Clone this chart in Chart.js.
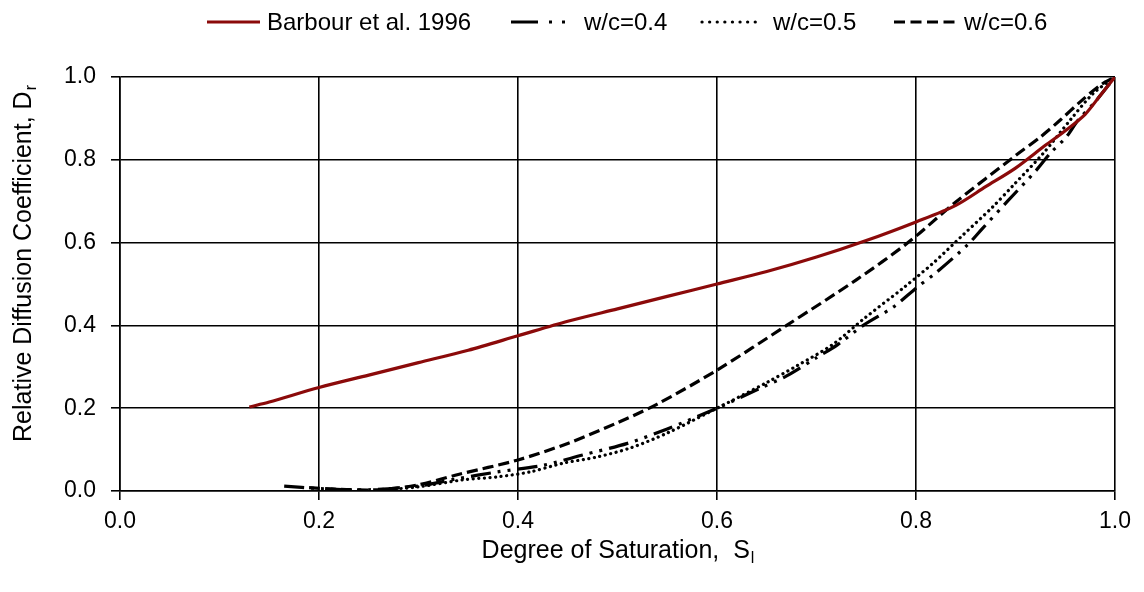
<!DOCTYPE html>
<html><head><meta charset="utf-8">
<script src="https://cdn.jsdelivr.net/npm/chart.js@4/dist/chart.umd.min.js"></script>
<style>html,body{margin:0;padding:0;background:#fff}</style>
</head><body>
<canvas id="c" width="1144" height="592"></canvas>
<script>
// ---- data ----
const tickLabels = ['0.0', '0.2', '0.4', '0.6', '0.8', '1.0'];
const seriesNames = ['Barbour et al. 1996', 'w/c=0.4', 'w/c=0.5', 'w/c=0.6'];
const xTitle = 'Degree of Saturation,  S';
const xTitleSub = 'l';
const yTitle = 'Relative Diffusion Coefficient, D';
const yTitleSub = 'r';

const barbourS = [0.13, 0.15, 0.2, 0.25, 0.3, 0.35, 0.4, 0.45, 0.5, 0.55, 0.6, 0.65, 0.7, 0.75, 0.8, 0.84, 0.87, 0.9, 0.93, 0.95, 0.97, 0.985, 1.0];
const barbourD = [0.203, 0.215, 0.25, 0.28, 0.31, 0.34, 0.375, 0.41, 0.44, 0.47, 0.50, 0.53, 0.565, 0.605, 0.65, 0.69, 0.735, 0.78, 0.835, 0.87, 0.91, 0.955, 1.0];

const wc04S = [0.165, 0.2, 0.25, 0.3, 0.34, 0.379, 0.425, 0.465, 0.51, 0.55, 0.6, 0.643, 0.67, 0.70, 0.721, 0.747, 0.777, 0.8, 0.821, 0.852, 0.866, 0.892, 0.921, 0.935, 0.951, 0.963, 0.98, 1.0];
const wc04D = [0.012, 0.006, 0.003, 0.012, 0.03, 0.046, 0.062, 0.087, 0.115, 0.15, 0.2, 0.248, 0.278, 0.322, 0.353, 0.40, 0.444, 0.49, 0.529, 0.595, 0.632, 0.70, 0.775, 0.816, 0.855, 0.896, 0.94, 1.0];

const wc05S = [0.26, 0.3, 0.345, 0.379, 0.412, 0.445, 0.479, 0.513, 0.55, 0.6, 0.65, 0.68, 0.717, 0.747, 0.787, 0.817, 0.847, 0.877, 0.898, 0.928, 0.955, 0.978, 1.0];
const wc05D = [0.002, 0.01, 0.027, 0.034, 0.046, 0.067, 0.082, 0.104, 0.14, 0.2, 0.262, 0.302, 0.355, 0.415, 0.49, 0.55, 0.618, 0.686, 0.739, 0.816, 0.896, 0.96, 1.0];

const wc06S = [0.19, 0.22, 0.26, 0.3, 0.34, 0.4, 0.45, 0.5, 0.54, 0.6, 0.67, 0.74, 0.792, 0.84, 0.9, 0.925, 0.945, 0.965, 0.985, 1.0];
const wc06D = [0.008, 0.004, 0.003, 0.015, 0.04, 0.075, 0.115, 0.165, 0.21, 0.292, 0.40, 0.51, 0.60, 0.698, 0.81, 0.855, 0.896, 0.94, 0.98, 1.0];

// ---- build ----
const pts = (xs, ys) => xs.map((x, i) => ({x: x, y: ys[i]}));
const FONT = '"Liberation Sans", Arial, sans-serif';
Chart.defaults.font.family = FONT;
Chart.defaults.font.size = 23;
Chart.defaults.color = '#000';

const styles = [
  {color: '#8b0a0a', width: 3.2, dash: [], cap: 'butt'},
  {color: '#000', width: 3.2, dash: [20, 7, 3, 7, 3, 7], cap: 'butt'},
  {color: '#000', width: 3.2, dash: [0.1, 5.5], cap: 'round'},
  {color: '#000', width: 3.2, dash: [11, 5], cap: 'butt'}
];
const series = [pts(barbourS, barbourD), pts(wc04S, wc04D), pts(wc05S, wc05D), pts(wc06S, wc06D)];
const datasets = series.map((d, i) => ({
  label: seriesNames[i], data: d, showLine: true, fill: false, tension: 0.3,
  borderColor: styles[i].color, backgroundColor: styles[i].color,
  borderWidth: styles[i].width, borderDash: styles[i].dash, borderCapStyle: styles[i].cap,
  pointRadius: 0, pointHoverRadius: 0
}));

function drawSubText(ctx, x, y, main, sub, size) {
  ctx.font = size + 'px ' + FONT;
  ctx.fillText(main, x, y);
  const w = ctx.measureText(main).width;
  ctx.font = Math.round(size * 0.65) + 'px ' + FONT;
  ctx.fillText(sub, x + w + 1, y + 5);
}

const TITLE_FS = 25;
const legendLineX = [207, 511, 702, 894];
const legendLineLen = [53, 56, 60, 63];
const legendTextX = [267, 584, 773, 964];
const legendDash = [[], [27, 11, 3, 10, 3, 20], [0.1, 7.5], [11, 5.5]];
const decor = {
  id: 'decor',
  afterDraw(chart) {
    const ctx = chart.ctx, ca = chart.chartArea;
    ctx.save();
    ctx.fillStyle = '#000';
    ctx.textBaseline = 'alphabetic';
    ctx.textAlign = 'left';
    // x title
    const fs = TITLE_FS;
    ctx.font = fs + 'px ' + FONT;
    let wMain = ctx.measureText(xTitle).width;
    ctx.font = Math.round(fs * 0.65) + 'px ' + FONT;
    let wSub = ctx.measureText(xTitleSub).width;
    let cx = (ca.left + ca.right) / 2;
    drawSubText(ctx, cx - (wMain + wSub) / 2, 558, xTitle, xTitleSub, fs);
    // y title
    ctx.save();
    ctx.translate(31, 264);
    ctx.rotate(-Math.PI / 2);
    ctx.font = fs + 'px ' + FONT;
    wMain = ctx.measureText(yTitle).width;
    ctx.font = Math.round(fs * 0.65) + 'px ' + FONT;
    wSub = ctx.measureText(yTitleSub).width;
    drawSubText(ctx, -(wMain + wSub) / 2, 0, yTitle, yTitleSub, fs);
    ctx.restore();
    // legend
    const ly = 22;
    ctx.font = '24px ' + FONT;
    ctx.textBaseline = 'middle';
    chart.data.datasets.forEach((ds, i) => {
      ctx.save();
      ctx.strokeStyle = ds.borderColor;
      ctx.lineWidth = ds.borderWidth;
      ctx.setLineDash(legendDash[i]);
      ctx.lineCap = ds.borderCapStyle;
      ctx.beginPath();
      ctx.moveTo(legendLineX[i], ly);
      ctx.lineTo(legendLineX[i] + legendLineLen[i], ly);
      ctx.stroke();
      ctx.restore();
      ctx.fillText(ds.label, legendTextX[i], ly + 1);
    });
    ctx.restore();
  }
};

const axisCommon = {
  type: 'linear', min: 0, max: 1,
  grid: {color: '#000', lineWidth: 1.6, tickLength: 9, drawTicks: true},
  border: {display: true, color: '#000', width: 1.6},
};

new Chart(document.getElementById('c'), {
  type: 'scatter',
  data: {datasets: datasets},
  options: {
    responsive: false, animation: false, devicePixelRatio: 1,
    layout: {padding: {top: 77, right: 29, left: 0, bottom: 0}},
    plugins: {legend: {display: false}, tooltip: {enabled: false}},
    scales: {
      x: Object.assign({}, axisCommon, {
        position: 'bottom',
        afterFit: s => { s.height = 101; },
        ticks: {stepSize: 0.2, padding: 8, maxRotation: 0, font: {size: 23},
          callback: v => tickLabels[Math.round(v * 5)]}
      }),
      y: Object.assign({}, axisCommon, {
        position: 'left',
        afterFit: s => { s.width = 120; },
        ticks: {stepSize: 0.2, padding: 15, font: {size: 23},
          callback: v => tickLabels[Math.round(v * 5)]}
      })
    }
  },
  plugins: [decor]
});
</script>
</body></html>
